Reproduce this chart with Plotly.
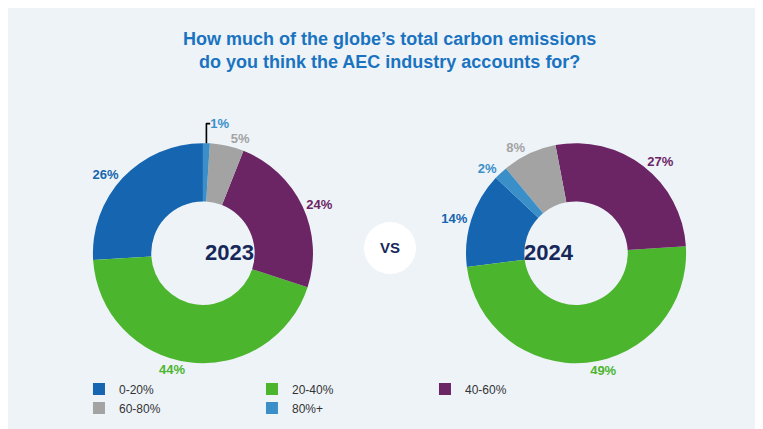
import plotly.graph_objects as go

labels = ["0-20%", "20-40%", "40-60%", "60-80%", "80%+"]
v2023 = [26, 44, 24, 5, 1]
v2024 = [14, 49, 27, 8, 2]
colors = ["#1565b0", "#4cb52e", "#6b2565", "#a3a3a3", "#3a8fc8"]

fig = go.Figure()
for vals, dom, nm in [(v2023, [0.111, 0.400], "2023"), (v2024, [0.600, 0.889], "2024")]:
    fig.add_trace(go.Pie(
        labels=labels, values=vals, hole=0.47, sort=False, direction="counterclockwise",
        rotation=270 - 3.6 * vals[-1], marker=dict(colors=colors, line=dict(width=0)),
        texttemplate="%{value}%", textposition="outside",
        textfont=dict(color=colors, size=13, family="Liberation Sans", weight="bold"),
        domain=dict(x=dom, y=[0.172, 0.685]), showlegend=(nm == "2023"), name=nm))
    fig.add_annotation(x=sum(dom) / 2, y=0.43, xref="paper", yref="paper", text="<b>" + nm + "</b>",
                       showarrow=False, font=dict(size=22, color="#16285a", family="Liberation Sans"))

fig.add_shape(type="circle", xref="paper", yref="paper", x0=(382 - 26) / 763, x1=(382 + 26) / 763,
              y0=(189 - 26) / 429, y1=(189 + 26) / 429, fillcolor="white", line=dict(width=0))
fig.add_annotation(x=382 / 763, y=189 / 429, xref="paper", yref="paper", text="<b>VS</b>", showarrow=False,
                   font=dict(size=15, color="#16285a", family="Liberation Sans"))
fig.add_annotation(x=0.5, y=0.955, xref="paper", yref="paper", yanchor="top", showarrow=False,
                   text="<b>How much of the globe’s total carbon emissions<br>do you think the AEC industry accounts for?</b>",
                   font=dict(size=18, color="#1a73c0", family="Liberation Sans"))

fig.update_layout(
    width=763, height=429, margin=dict(l=0, r=0, t=0, b=0),
    paper_bgcolor="#eef3f8", plot_bgcolor="#eef3f8",
    legend=dict(orientation="h", x=0.105, y=0.09, yanchor="middle", entrywidth=128,
                font=dict(size=12, color="#333333", family="Liberation Sans"), traceorder="normal"),
)
fig.write_html("out.html")
